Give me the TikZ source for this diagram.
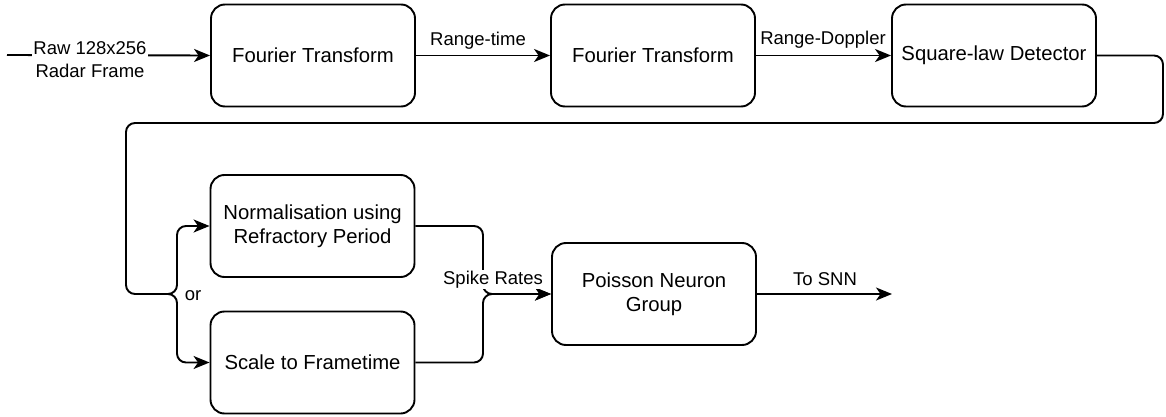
\documentclass[tikz,border=0pt]{standalone}
\usepackage{fontspec}
\setmainfont{Liberation Sans}
\usetikzlibrary{arrows.meta}
\begin{document}
\begin{tikzpicture}[x=1pt, y=-1pt, line width=1.9pt,
  main/.style = {draw, rounded corners=14pt, minimum width=204pt, minimum height=102pt, align=center, font=\fontsize{20.3}{24}\selectfont},
  lab/.style = {font=\fontsize{18.5}{23}\selectfont, align=center, inner sep=1pt},
  arr/.style = {-{Stealth[length=16pt, width=13pt, inset=4.5pt]}, rounded corners=9pt}]
  \useasboundingbox (0,0) rectangle (1166,417);
  \node[main] (ft1) at (313,55.5) {Fourier Transform};
  \node[main] (ft2) at (653,55.5) {Fourier Transform};
  \node[main] (sq) at (994,55.5) {Square-law Detector};
  \node[main] (norm) at (312.5,226) {Normalisation using\\Refractory Period};
  \node[main] (scale) at (312.5,362.5) {Scale to Frametime};
  \node[main] (pois) at (654,294) {Poisson Neuron\\Group};
  \coordinate (in) at (7,55);
  \coordinate (out) at (892,294);
  \coordinate (branch) at (150,294);
  \coordinate (split) at (177,294);
  \coordinate (merge) at (483,294);
  % top row
  \draw[arr] (in) -- (ft1.west);
  \draw[arr] (ft1.east) -- (ft2.west);
  \draw[arr] (ft2.east) -- (sq.west);
  % loop back to the second row
  \draw[arr] (sq.east) -- (1163,55.5) -- (1163,123) -- (126,123) -- (126,294) -- (split) |- (norm.west);
  \draw[arr] (branch) -- (split) |- (scale.west);
  \draw[arr] (norm.east) -| (merge) -- (pois.west);
  \draw[arr] (scale.east) -| (merge) -- (pois.west);
  \draw[arr] (pois.east) -- (out);
  % labels
  \node[lab, fill=white] (raw) at (90,60) {Raw 128x256\\Radar Frame};
  \node[lab, anchor=base] (rt) at (478,46) {Range-time};
  \node[lab, anchor=base] (rd) at (823,45) {Range-Doppler};
  \node[lab, anchor=base] (or) at (193,300) {or};
  \node[lab, anchor=base, fill=white] (rates) at (493,284) {Spike Rates};
  \node[lab, anchor=base] (snn) at (825,285) {To SNN};
\end{tikzpicture}
\end{document}
